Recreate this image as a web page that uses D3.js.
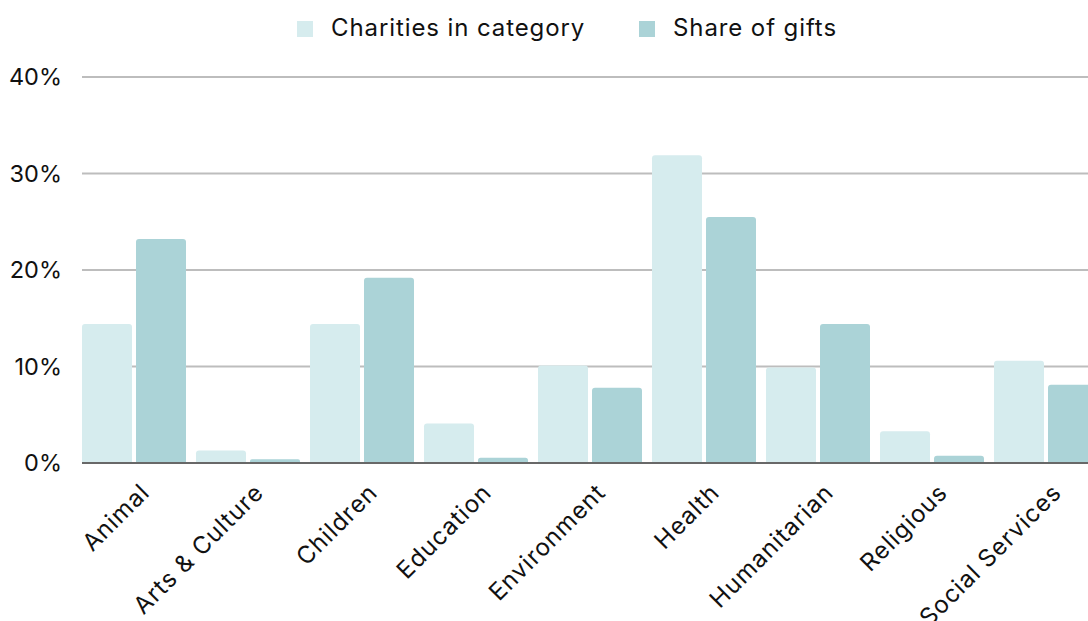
<!DOCTYPE html>
<html>
<head>
<meta charset="utf-8">
<script src="https://cdn.jsdelivr.net/npm/d3@7"></script>
<style>
  html, body { margin: 0; padding: 0; background: #fff; overflow: hidden; }
  svg { display: block; }
  text { font-family: "Inter", "Lato", sans-serif; fill: #111; }
</style>
</head>
<body>
<svg id="chart" width="1088" height="621"></svg>
<script>
const categories = ["Animal", "Arts & Culture", "Children", "Education", "Environment",
                    "Health", "Humanitarian", "Religious", "Social Services"];
const charitiesInCategory = [14.4, 1.3, 14.4, 4.1, 10.1, 31.9, 9.9, 3.3, 10.6];
const shareOfGifts        = [23.2, 0.4, 19.2, 0.55, 7.8, 25.5, 14.4, 0.75, 8.1];
const seriesNames = ["Charities in category", "Share of gifts"];
const seriesColors = ["#d6ecee", "#abd3d7"];
const yTicks = [0, 10, 20, 30, 40];

const svg = d3.select("#chart");
const margin = { left: 82, top: 77, bottom: 463 };
const plotRight = 1098;

const x0 = d3.scaleBand()
  .domain(categories)
  .range([margin.left, plotRight])
  .paddingInner(10 / 114)
  .paddingOuter(0);

const x1 = d3.scaleBand()
  .domain(seriesNames)
  .range([0, x0.bandwidth()])
  .paddingInner(4 / 54)
  .paddingOuter(0);

const y = d3.scaleLinear().domain([0, 40]).range([margin.bottom, margin.top]);

// horizontal gridlines
svg.append("g")
  .selectAll("line")
  .data(yTicks.filter(t => t > 0))
  .join("line")
  .attr("x1", margin.left)
  .attr("x2", 1088)
  .attr("y1", d => y(d))
  .attr("y2", d => y(d))
  .attr("stroke", "#bdbdbd")
  .attr("stroke-width", 2);

// y tick labels
svg.append("g")
  .selectAll("text")
  .data(yTicks)
  .join("text")
  .attr("x", 62)
  .attr("y", d => y(d))
  .attr("dy", "0.36em")
  .attr("text-anchor", "end")
  .style("font-size", "23.5px")
  .text(d => d + "%");

// bar with rounded top corners
function barPath(x, w, yTop, yBase, r) {
  const h = yBase - yTop;
  const rr = Math.min(r, h / 2, w / 2);
  return `M${x},${yBase}V${yTop + rr}Q${x},${yTop} ${x + rr},${yTop}` +
         `H${x + w - rr}Q${x + w},${yTop} ${x + w},${yTop + rr}V${yBase}Z`;
}

const rows = categories.map((c, i) => ({
  category: c,
  values: [charitiesInCategory[i], shareOfGifts[i]]
}));

const groups = svg.append("g")
  .selectAll("g")
  .data(rows)
  .join("g")
  .attr("transform", d => `translate(${x0(d.category)},0)`);

groups.selectAll("path")
  .data(d => d.values.map((v, j) => ({ series: seriesNames[j], value: v, j })))
  .join("path")
  .attr("d", d => barPath(x1(d.series), x1.bandwidth(), y(d.value), y(0), 3))
  .attr("fill", d => seriesColors[d.j]);

// baseline
svg.append("line")
  .attr("x1", margin.left)
  .attr("x2", 1088)
  .attr("y1", y(0))
  .attr("y2", y(0))
  .attr("stroke", "#686868")
  .attr("stroke-width", 2);

// category labels, rotated
svg.append("g")
  .selectAll("text")
  .data(categories)
  .join("text")
  .attr("transform", d => `translate(${x0(d) + x0.bandwidth() / 2 + 17},${494}) rotate(-45)`)
  .attr("text-anchor", "end")
  .style("font-size", "24px")
  .style("letter-spacing", "1px")
  .text(d => d);

// legend
const legendX = [297, 639];
const legend = svg.append("g")
  .selectAll("g")
  .data(seriesNames)
  .join("g")
  .attr("transform", (d, i) => `translate(${legendX[i]},21)`);

legend.append("rect")
  .attr("width", 16)
  .attr("height", 16)
  .attr("fill", (d, i) => seriesColors[i]);

legend.append("text")
  .attr("x", 34)
  .attr("y", 15)
  .style("font-size", "24px")
  .style("letter-spacing", "0.9px")
  .text(d => d);
</script>
</body>
</html>
